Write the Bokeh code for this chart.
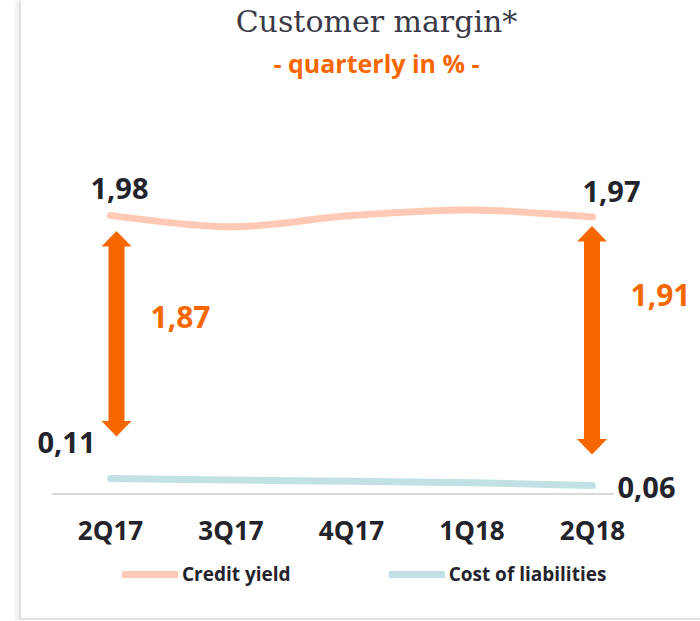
from bokeh.plotting import figure
from bokeh.models import Range1d, FixedTicker, Legend, LegendItem
from bokeh.core.properties import value
from bokeh.embed import file_html
from bokeh.resources import INLINE

# ---------------- data ----------------
categories = ["2Q17", "3Q17", "4Q17", "1Q18", "2Q18"]
credit_yield = [1.98, 1.90, 1.98, 2.02, 1.97]
cost_of_liabilities = [0.11, 0.10, 0.09, 0.08, 0.06]
series_names = ["Credit yield", "Cost of liabilities"]
title_text = "Customer margin*"
subtitle_text = "- quarterly in % -"

# ---------------- styles ----------------
ORANGE = "#F76700"
DARK = "#23232b"
CREDIT_COLOR = "#FFC9B6"
COST_COLOR = "#C2E1E5"
NUM_FONT = "Open Sans"

# ---------------- geometry (pixels) ----------------
W, H = 700, 621
PX_X = 120.5      # pixels per category step
PX_Y = 140.6      # pixels per 1 %
ORIGIN_X = 110.0  # px of first category
ORIGIN_Y = 493.5  # px of value 0
TXT_SHIFT = -10   # vertical correction for text glyphs


def dx(fx):
    return (fx - ORIGIN_X) / PX_X


def dy(fy):
    return (ORIGIN_Y - fy) / PX_Y


p = figure(width=W, height=H, output_backend="svg", toolbar_location=None,
           x_range=Range1d(dx(0), dx(W)), y_range=Range1d(dy(H), dy(0)),
           y_axis_location=None, min_border=0)
p.outline_line_color = None
p.background_fill_color = "white"
p.border_fill_color = "white"
p.xgrid.visible = False
p.ygrid.visible = False

# card edges (soft shadow left and bottom)
p.segment(x0=[dx(16.5)], y0=[dy(0)], x1=[dx(16.5)], y1=[dy(620)],
          line_color="#f2f2f2", line_width=4)
p.segment(x0=[dx(19.5)], y0=[dy(0)], x1=[dx(19.5)], y1=[dy(618)],
          line_color="#e0e0e0", line_width=2)
p.segment(x0=[dx(18.5)], y0=[dy(618.5)], x1=[dx(W)], y1=[dy(618.5)],
          line_color="#e0e0e0", line_width=2)

# baseline
p.segment(x0=[dx(51)], y0=[0], x1=[dx(613)], y1=[0],
          line_color="#d9d9d9", line_width=2)

# x axis at value 0
xs = list(range(len(categories)))
ax = p.xaxis[0]
ax.fixed_location = 0
ax.ticker = FixedTicker(ticks=xs)
ax.major_label_overrides = {i: c for i, c in enumerate(categories)}
ax.axis_line_color = None
ax.major_tick_line_color = None
ax.minor_tick_line_color = None
ax.major_label_standoff = 12
ax.major_label_text_font = NUM_FONT
ax.major_label_text_font_style = "bold"
ax.major_label_text_font_size = "26px"
ax.major_label_text_color = DARK


def bezier_parts(ys):
    n = len(ys)
    out = dict(x0=[], y0=[], x1=[], y1=[], cx0=[], cy0=[], cx1=[], cy1=[])
    for i in range(n - 1):
        pm = i - 1 if i > 0 else i
        pp = i + 2 if i + 2 < n else i + 1
        out["x0"].append(xs[i]); out["y0"].append(ys[i])
        out["x1"].append(xs[i + 1]); out["y1"].append(ys[i + 1])
        out["cx0"].append(xs[i] + (xs[i + 1] - xs[pm]) / 6)
        out["cy0"].append(ys[i] + (ys[i + 1] - ys[pm]) / 6)
        out["cx1"].append(xs[i + 1] - (xs[pp] - xs[i]) / 6)
        out["cy1"].append(ys[i + 1] - (ys[pp] - ys[i]) / 6)
    return out


r_credit = p.bezier(**bezier_parts(credit_yield), line_color=CREDIT_COLOR,
                    line_width=7, line_cap="round")
r_cost = p.bezier(**bezier_parts(cost_of_liabilities), line_color=COST_COLOR,
                  line_width=7, line_cap="round")

# double arrows showing the margin
first, last = 0, len(categories) - 1
arrow_x = [first + 6 / PX_X, last - 0.5 / PX_X]
arrow_top = [credit_yield[first] - 15.5 / PX_Y, credit_yield[last] - 9 / PX_Y]
arrow_bot = [cost_of_liabilities[first] + 42 / PX_Y, cost_of_liabilities[last] + 31 / PX_Y]
hws, hwh, hl = 8 / PX_X, 15 / PX_X, 15.5 / PX_Y
axs, ays = [], []
for x, t, b in zip(arrow_x, arrow_top, arrow_bot):
    axs.append([x, x + hwh, x + hws, x + hws, x + hwh, x, x - hwh, x - hws, x - hws, x - hwh])
    ays.append([t, t - hl, t - hl, b + hl, b + hl, b, b + hl, b + hl, t - hl, t - hl])
p.patches(xs=axs, ys=ays, fill_color=ORANGE, line_color=None)


def fmt(v):
    return f"{v:.2f}".replace(".", ",")


# value labels
def label(x, y, txt, color, size, align, xo, yo, font=NUM_FONT):
    p.text(x=[x], y=[y], text=[txt], text_color=color, text_font=value(font),
           text_font_style="bold", text_font_size=size, text_align=align,
           text_baseline="alphabetic", x_offset=xo, y_offset=yo + TXT_SHIFT)


label(first, credit_yield[first], fmt(credit_yield[first]), DARK, "29px", "center", 9, -17)
label(last, credit_yield[last], fmt(credit_yield[last]), DARK, "29px", "center", 19, -16)
label(first, cost_of_liabilities[first], fmt(cost_of_liabilities[first]), DARK, "29px", "right", -15, -26)
label(last, cost_of_liabilities[last], fmt(cost_of_liabilities[last]), DARK, "29px", "left", 25, 12)
m0 = credit_yield[first] - cost_of_liabilities[first]
m1 = credit_yield[last] - cost_of_liabilities[last]
label(first, (credit_yield[first] + cost_of_liabilities[first]) / 2, fmt(m0), ORANGE, "30px", "left", 40, -20)
label(last, (credit_yield[last] + cost_of_liabilities[last]) / 2, fmt(m1), ORANGE, "30px", "left", 38, -46)

# titles
p.text(x=[dx(376)], y=[dy(32)], text=[title_text], text_color="#3a3a46",
       text_font=value("DejaVu Serif"), text_font_size="30px",
       text_align="center", text_baseline="alphabetic", y_offset=TXT_SHIFT - 1)
p.text(x=[dx(376)], y=[dy(72)], text=[subtitle_text], text_color=ORANGE,
       text_font=value("Open Sans"), text_font_style="bold", text_font_size="25px",
       text_align="center", text_baseline="alphabetic", y_offset=TXT_SHIFT)

# legend
legend = Legend(items=[LegendItem(label=series_names[0], renderers=[r_credit]),
                       LegendItem(label=series_names[1], renderers=[r_cost])],
                orientation="horizontal", location=(122, 34))
legend.padding = 0
legend.margin = 0
legend.spacing = 98
legend.label_standoff = 4
legend.glyph_width = 56
legend.glyph_height = 20
legend.label_height = 20
legend.border_line_color = None
legend.background_fill_alpha = 0
legend.label_text_font = "Open Sans"
legend.label_text_font_style = "bold"
legend.label_text_font_size = "19px"
legend.label_text_color = DARK
p.add_layout(legend)

open("out.html", "w").write(file_html(p, INLINE))
